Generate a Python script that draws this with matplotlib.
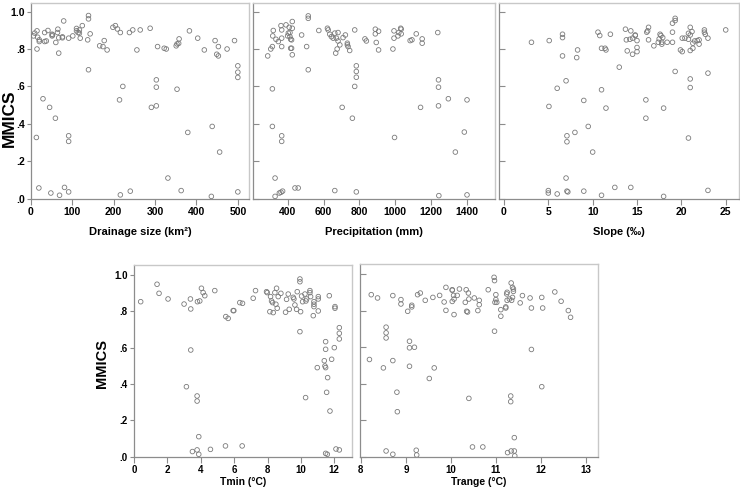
import matplotlib
matplotlib.use("Agg")
import matplotlib.pyplot as plt

plt.rcParams['font.family'] = ['Liberation Sans', 'DejaVu Sans']

# ---- data (MMICS vs. each predictor) ----
drainage = [6, 9, 14.5, 14.5, 16, 20, 20, 13, 19, 29, 33, 33, 37, 41, 45, 48, 51, 51, 52, 59,
            60, 64, 65, 67, 67, 69, 76, 76, 79, 81, 91, 91, 91, 91, 101, 110, 110, 114, 117, 117,
            119, 124, 137, 139, 139, 139, 143, 166, 174, 177, 184, 198, 204, 209, 216, 214, 222, 216,
            238, 240, 246, 256, 264, 288, 291, 303, 303, 303, 306, 331, 322, 327, 351, 353, 353, 357,
            358, 363, 379, 383, 403, 419, 436, 438, 445, 449, 453, 453, 456, 474, 492, 500, 500, 500, 500]
mmics_drainage = [0.87, 0.885, 0.897, 0.80, 0.863, 0.849, 0.84, 0.327, 0.057, 0.534, 0.888, 0.84,
                  0.843, 0.899, 0.488, 0.03, 0.879, 0.87, 0.875, 0.43, 0.835, 0.888, 0.906, 0.86,
                  0.778, 0.018, 0.865, 0.86, 0.95, 0.06, 0.858, 0.336, 0.306, 0.036, 0.87, 0.91,
                  0.897, 0.888, 0.902, 0.885, 0.858, 0.925, 0.849, 0.979, 0.961, 0.689, 0.881,
                  0.817, 0.813, 0.845, 0.795, 0.916, 0.925, 0.907, 0.888, 0.528, 0.6, 0.02, 0.888,
                  0.04, 0.902, 0.795, 0.902, 0.911, 0.488, 0.496, 0.596, 0.635, 0.813, 0.11, 0.804,
                  0.8, 0.817, 0.827, 0.585, 0.83, 0.854, 0.043, 0.354, 0.897, 0.858, 0.795, 0.012,
                  0.386, 0.845, 0.772, 0.763, 0.813, 0.249, 0.8, 0.845, 0.71, 0.676, 0.648, 0.036]

precip = [289, 306, 315, 315, 315, 317, 320, 330, 330, 335, 348, 354, 363, 367, 367, 367, 367, 367,
          372, 363, 391, 400, 404, 409, 413, 413, 417, 417, 422, 422, 426, 426, 426, 441, 459, 478,
          506, 515, 515, 515, 574, 622, 626, 635, 644, 654, 663, 668, 672, 676, 681, 681, 691, 663,
          704, 709, 722, 733, 733, 737, 746, 761, 774, 774, 783, 783, 783, 783, 831, 839, 889, 889,
          894, 907, 907, 987, 993, 993, 996, 1015, 1020, 1030, 1033, 1033, 1083, 1093, 1117, 1141,
          1150, 1150, 1237, 1241, 1241, 1241, 1243, 1296, 1335, 1385, 1400, 1400]
mmics_precip = [0.763, 0.80, 0.813, 0.587, 0.386, 0.87, 0.899, 0.11, 0.012, 0.852, 0.84, 0.03,
                0.034, 0.336, 0.306, 0.813, 0.902, 0.858, 0.04, 0.925, 0.929, 0.87, 0.885, 0.916,
                0.888, 0.866, 0.852, 0.804, 0.804, 0.849, 0.911, 0.769, 0.947, 0.057, 0.057, 0.875,
                0.813, 0.977, 0.964, 0.689, 0.899, 0.911, 0.902, 0.879, 0.866, 0.858, 0.885, 0.778,
                0.858, 0.80, 0.888, 0.843, 0.822, 0.043, 0.488, 0.861, 0.875, 0.831, 0.822, 0.813,
                0.792, 0.43, 0.902, 0.6, 0.71, 0.68, 0.649, 0.036, 0.854, 0.843, 0.906, 0.881,
                0.835, 0.895, 0.795, 0.8, 0.897, 0.858, 0.327, 0.87, 0.888, 0.911, 0.906, 0.881,
                0.845, 0.849, 0.881, 0.488, 0.854, 0.831, 0.888, 0.635, 0.596, 0.496, 0.016, 0.534,
                0.249, 0.356, 0.528, 0.02]

slope = [3.1, 5.07, 5.1, 5.0, 5.0, 6.0, 6.0, 6.6, 6.6, 6.6, 7.0, 7.0, 7.1, 7.1, 7.1, 7.2, 8.0, 8.2,
         8.3, 9.0, 9.0, 9.5, 10.0, 10.6, 10.8, 11.0, 11.0, 11.0, 11.4, 11.5, 11.5, 12.0, 12.5, 13.0,
         13.7, 13.8, 13.9, 14.2, 14.3, 14.3, 14.5, 14.5, 14.8, 14.8, 15.0, 15.0, 15.0, 16.0, 16.0,
         16.1, 16.2, 16.3, 16.3, 16.9, 17.4, 17.5, 17.6, 17.7, 17.8, 17.8, 17.9, 18.0, 18.0, 18.4,
         19.0, 19.0, 19.0, 19.3, 19.3, 19.3, 19.9, 20.1, 20.1, 20.4, 20.8, 20.8, 20.8, 21.0, 21.0,
         21.0, 21.0, 21.0, 21.2, 21.3, 21.3, 21.5, 21.8, 22.0, 22.0, 22.6, 22.6, 22.7, 23.0, 23.0,
         23.0, 25.0]
mmics_slope = [0.836, 0.493, 0.845, 0.043, 0.03, 0.025, 0.59, 0.879, 0.861, 0.763, 0.63, 0.11,
               0.336, 0.304, 0.04, 0.036, 0.354, 0.754, 0.795, 0.525, 0.04, 0.386, 0.249, 0.89,
               0.872, 0.804, 0.582, 0.018, 0.804, 0.795, 0.484, 0.879, 0.06, 0.703, 0.906, 0.849,
               0.79, 0.852, 0.897, 0.06, 0.772, 0.858, 0.875, 0.872, 0.845, 0.808, 0.786, 0.528,
               0.43, 0.89, 0.897, 0.849, 0.916, 0.817, 0.836, 0.854, 0.879, 0.872, 0.836, 0.826,
               0.861, 0.484, 0.012, 0.836, 0.836, 0.89, 0.938, 0.68, 0.964, 0.952, 0.795, 0.786,
               0.858, 0.858, 0.852, 0.884, 0.324, 0.792, 0.916, 0.875, 0.64, 0.594, 0.893, 0.831,
               0.804, 0.843, 0.845, 0.849, 0.826, 0.902, 0.89, 0.879, 0.858, 0.671, 0.044, 0.902]

tmin = [0.4, 1.38, 1.5, 2.04, 3.0, 3.14, 3.38, 3.4, 3.4, 3.5, 3.78, 3.78, 3.78, 3.8, 3.88, 3.88,
        3.94, 4.04, 4.14, 4.24, 4.58, 4.84, 5.48, 5.5, 5.64, 5.94, 5.98, 6.34, 6.48, 6.5, 7.14,
        7.28, 7.94, 7.98, 8.14, 8.18, 8.24, 8.3, 8.34, 8.44, 8.5, 8.54, 8.58, 8.64, 8.8, 9.08,
        9.14, 9.24, 9.3, 9.54, 9.58, 9.64, 9.74, 9.78, 9.94, 9.94, 9.94, 9.98, 10.04, 10.1, 10.24,
        10.28, 10.3, 10.34, 10.54, 10.54, 10.58, 10.74, 10.78, 10.78, 10.78, 11.04, 11.04, 11.04,
        10.98, 11.4, 11.44, 11.48, 11.48, 11.48, 11.48, 11.58, 11.54, 11.6, 11.7, 11.74, 11.84,
        12.0, 12.04, 12.04, 12.1, 12.3, 12.3, 12.3, 12.3]
mmics_tmin = [0.853, 0.949, 0.899, 0.868, 0.84, 0.385, 0.868, 0.813, 0.587, 0.028, 0.334, 0.306,
              0.037, 0.853, 0.013, 0.11, 0.857, 0.927, 0.903, 0.886, 0.04, 0.914, 0.059, 0.771,
              0.761, 0.804, 0.804, 0.848, 0.059, 0.844, 0.872, 0.914, 0.908, 0.903, 0.798, 0.881,
              0.857, 0.848, 0.793, 0.903, 0.839, 0.927, 0.817, 0.881, 0.899, 0.795, 0.866, 0.895,
              0.811, 0.877, 0.868, 0.835, 0.811, 0.908, 0.978, 0.963, 0.688, 0.798, 0.884, 0.853,
              0.895, 0.325, 0.857, 0.868, 0.914, 0.903, 0.881, 0.776, 0.853, 0.839, 0.826, 0.881,
              0.868, 0.802, 0.49, 0.528, 0.499, 0.633, 0.591, 0.49, 0.018, 0.013, 0.354, 0.435,
              0.886, 0.251, 0.536, 0.6, 0.826, 0.817, 0.042, 0.71, 0.679, 0.648, 0.037]

trange = [8.19, 8.23, 8.37, 8.5, 8.56, 8.56, 8.56, 8.56, 8.71, 8.71, 8.71, 8.8, 8.81, 8.89, 8.89,
          9.04, 9.08, 9.08, 9.08, 9.13, 9.13, 9.19, 9.23, 9.24, 9.26, 9.32, 9.43, 9.52, 9.6, 9.63,
          9.75, 9.85, 9.89, 9.89, 10.03, 10.03, 10.03, 10.06, 10.07, 10.07, 10.14, 10.19, 10.32,
          10.34, 10.35, 10.37, 10.39, 10.4, 10.4, 10.52, 10.48, 10.6, 10.63, 10.63, 10.71, 10.83,
          10.96, 10.97, 10.97, 10.98, 11.0, 11.0, 11.02, 11.11, 11.11, 11.22, 11.22, 11.24, 11.25,
          11.25, 11.26, 11.3, 11.33, 11.33, 11.34, 11.34, 11.35, 11.37, 11.37, 11.39, 11.39, 11.41,
          11.41, 11.42, 11.54, 11.59, 11.76, 11.79, 11.79, 12.02, 12.02, 12.04, 12.31, 12.45,
          12.61, 12.66]
mmics_trange = [0.532, 0.887, 0.869, 0.486, 0.709, 0.678, 0.65, 0.031, 0.882, 0.526, 0.013, 0.353,
                0.246, 0.86, 0.836, 0.796, 0.632, 0.596, 0.495, 0.829, 0.82, 0.599, 0.035, 0.009,
                0.887, 0.896, 0.856, 0.428, 0.872, 0.486, 0.883, 0.847, 0.927, 0.801, 0.914, 0.911,
                0.85, 0.883, 0.863, 0.778, 0.883, 0.918, 0.845, 0.914, 0.796, 0.792, 0.896, 0.863,
                0.319, 0.869, 0.053, 0.8, 0.856, 0.832, 0.053, 0.914, 0.982, 0.964, 0.687, 0.845,
                0.86, 0.887, 0.845, 0.805, 0.769, 0.814, 0.82, 0.891, 0.9, 0.856, 0.022, 0.863,
                0.332, 0.301, 0.951, 0.031, 0.856, 0.927, 0.872, 0.918, 0.905, 0.104, 0.031, 0.004,
                0.842, 0.882, 0.869, 0.814, 0.587, 0.872, 0.383, 0.814, 0.902, 0.851, 0.8, 0.763]

y_ticks = [0, 0.2, 0.4, 0.6, 0.8, 1.0]
y_ticklabels = ['.0', '.2', '.4', '.6', '.8', '1.0']

W, H = 740, 495
fig = plt.figure(figsize=(W / 100, H / 100), dpi=100)


def add_panel(box, x, y, xlim, ylim, xticks, xlabel, first, tick_fs, lab_fs, labelpad):
    l, t, r, b = box
    ax = fig.add_axes([l / W, 1 - b / H, (r - l) / W, (b - t) / H])
    ax.scatter(x, y, s=11, facecolors='none', edgecolors='#7a7a7a', linewidths=0.6, zorder=3)
    ax.set_xlim(*xlim)
    ax.set_ylim(*ylim)
    ax.set_xticks(xticks)
    ax.set_xticklabels([str(v) for v in xticks], fontsize=tick_fs, fontweight='bold')
    ax.set_yticks(y_ticks)
    for side in ['top', 'right']:
        ax.spines[side].set_color('#c8c8c8')
        ax.spines[side].set_linewidth(1.0)
    for side in ['left', 'bottom']:
        ax.spines[side].set_color('#8c8c8c')
        ax.spines[side].set_linewidth(0.9)
    ax.tick_params(axis='x', length=4, width=0.8, color='#8c8c8c', pad=2)
    if first:
        ax.set_yticklabels(y_ticklabels, fontsize=tick_fs, fontweight='bold')
        ax.tick_params(axis='y', direction='out', length=3, width=0.8, color='#8c8c8c', pad=1.5)
    else:
        ax.set_yticklabels([])
        ax.tick_params(axis='y', direction='in', length=4, width=0.8, color='#8c8c8c')
    ax.set_xlabel(xlabel, fontsize=lab_fs, fontweight='bold', labelpad=labelpad)
    return ax


# top row
add_panel((31, 3, 249, 199), drainage, mmics_drainage, (0, 527), (-0.002, 1.046),
          [0, 100, 200, 300, 400, 500], 'Drainage size (km²)', True, 7.5, 8, 7)
add_panel((253, 3, 495, 199), precip, mmics_precip, (207, 1556), (-0.002, 1.046),
          [400, 600, 800, 1000, 1200, 1400], 'Precipitation (mm)', False, 7.5, 8, 7)
add_panel((499, 3, 739, 199), slope, mmics_slope, (-0.56, 26.5), (-0.002, 1.046),
          [0, 5, 10, 15, 20, 25], 'Slope (‰)', False, 7.5, 8, 7)

# bottom row
add_panel((134, 265, 352, 457), tmin, mmics_tmin, (0, 13.06), (-0.002, 1.055),
          [0, 2, 4, 6, 8, 10, 12], 'Tmin (°C)', True, 7, 7.5, 1.5)
add_panel((360, 264, 598, 457), trange, mmics_trange, (7.98, 13.27), (-0.002, 1.055),
          [8, 9, 10, 11, 12, 13], 'Trange (°C)', False, 7, 7.5, 1.5)

fig.text(9 / W, 1 - 118 / H, 'MMICS', rotation=90, fontsize=12.5, fontweight='bold',
         ha='center', va='center')
fig.text(102 / W, 1 - 363 / H, 'MMICS', rotation=90, fontsize=10.5, fontweight='bold',
         ha='center', va='center')

fig.savefig('out.png', dpi=100)
